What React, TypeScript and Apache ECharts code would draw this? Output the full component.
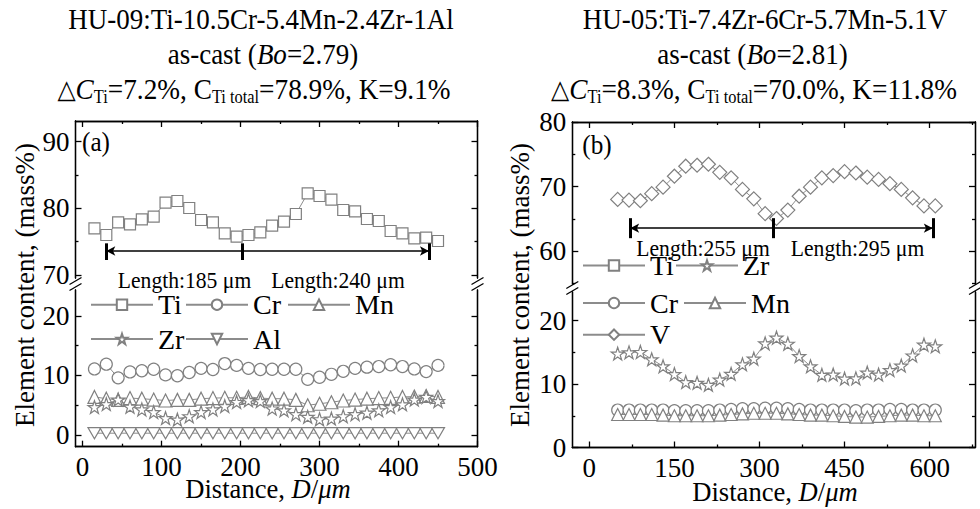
import React, { useEffect, useRef } from "react";
import * as echarts from "echarts";

const FONT = '"Liberation Serif", "Times New Roman", serif';

// ---------- data ----------
const X_A = [15, 30, 45, 60, 75, 90, 105, 120, 135, 150, 165, 180, 195, 210, 225, 240, 255, 270, 285, 300, 315, 330, 345, 360, 375, 390, 405, 420, 435, 450];
const TI_A = [77.0, 76.0, 77.9, 77.6, 78.35, 78.75, 80.85, 81.1, 80.05, 78.25, 77.9, 76.25, 75.75, 76.0, 76.4, 77.4, 78.0, 79.15, 82.25, 81.85, 81.3, 79.75, 79.55, 78.4, 78.1, 76.6, 76.25, 75.5, 75.6, 75.1];
const CR_A = [11.1, 11.9, 9.6, 10.6, 10.8, 11.05, 10.1, 9.95, 10.5, 11.2, 11.0, 12.0, 11.7, 11.2, 11.0, 11.05, 11.05, 11.05, 9.35, 9.7, 10.2, 10.7, 11.2, 11.4, 11.5, 11.8, 11.5, 11.1, 10.65, 11.7];
const MN_A = [6.4, 6.1, 5.9, 6.2, 6.1, 5.95, 5.8, 5.9, 5.9, 6.1, 6.2, 6.25, 6.25, 6.4, 6.2, 6.1, 6.1, 5.9, 5.0, 5.25, 5.5, 5.8, 5.95, 6.1, 6.2, 6.25, 6.4, 6.45, 6.55, 6.4];
const ZR_A = [4.7, 5.2, 5.95, 4.75, 4.3, 3.85, 2.85, 2.6, 3.15, 3.85, 4.3, 4.85, 5.55, 5.85, 5.7, 4.45, 4.15, 3.5, 3.05, 2.65, 2.75, 3.15, 3.5, 3.75, 4.15, 4.7, 5.15, 5.95, 6.4, 5.7];
const AL_A = [0.3, 0.3, 0.3, 0.3, 0.3, 0.3, 0.3, 0.3, 0.3, 0.3, 0.3, 0.3, 0.3, 0.3, 0.3, 0.3, 0.3, 0.3, 0.3, 0.3, 0.3, 0.3, 0.3, 0.3, 0.3, 0.3, 0.3, 0.3, 0.3, 0.3];

const X_B = [50, 70, 90, 110, 130, 150, 170, 190, 210, 230, 250, 270, 290, 310, 330, 350, 370, 390, 410, 430, 450, 470, 490, 510, 530, 550, 570, 590, 610];
const V_B = [68.0, 67.9, 67.8, 68.9, 69.9, 71.6, 73.15, 73.3, 73.45, 72.2, 71.35, 69.55, 68.1, 65.8, 65.05, 66.35, 68.5, 69.9, 71.35, 71.7, 72.3, 72.1, 71.45, 71.1, 70.45, 69.55, 68.25, 67.0, 67.0];
const ZR_B = [14.8, 15.0, 15.05, 13.9, 12.8, 11.57, 10.3, 10.2, 9.87, 10.7, 11.6, 13.1, 14.0, 16.4, 17.3, 16.35, 14.4, 12.8, 11.45, 11.5, 10.85, 10.9, 11.8, 11.5, 12.2, 12.9, 14.5, 16.2, 15.95];
const CR_B = [5.9, 5.9, 5.9, 5.9, 5.9, 5.8, 5.8, 5.8, 5.8, 5.9, 6.0, 6.1, 6.1, 6.2, 6.2, 6.1, 6.0, 5.9, 5.9, 5.9, 5.9, 5.8, 5.9, 5.9, 6.0, 6.0, 5.9, 5.9, 5.9];
const MN_B = [5.2, 5.2, 5.2, 5.2, 5.1, 5.0, 5.0, 5.0, 5.0, 5.1, 5.2, 5.3, 5.4, 5.4, 5.4, 5.3, 5.2, 5.1, 5.1, 5.0, 4.9, 4.8, 4.8, 4.9, 5.0, 5.1, 5.1, 5.0, 5.0];

// tick values
const XA_MAJOR = [0, 100, 200, 300, 400, 500];
const XA_MINOR = [50, 150, 250, 350, 450];
const XB_MAJOR = [0, 150, 300, 450, 600];
const XB_MINOR = [75, 225, 375, 525, 675];
const YA_UP_MAJOR = [70, 80, 90];
const YA_UP_MINOR = [75, 85];
const YB_UP_MAJOR = [60, 70, 80];
const YB_UP_MINOR = [55, 65, 75];
const Y_LOW_MAJOR = [0, 10, 20];
const Y_LOW_MINOR = [5, 15];

// annotation values (data coords)
const ARROW_A = { y: 73.6, x: [30, 202, 438.5], yLo: 72.25, yHi: 74.75 };
const ARROW_B = { y: 63.55, x: [72, 324, 605.6], yLo: 62.0, yHi: 65.1 };

const STAR = "path://M10,0L12.35,7.24L19.51,7.24L13.71,11.71L15.88,18.82L10,14.5L4.12,18.82L6.29,11.71L0.49,7.24L7.65,7.24Z";
const INV_TRI = "path://M0,0L20,0L10,17.3Z";

const GRAY = "#808080";
const LINE_GRAY = "#8c8c8c";

function pairs(xs: number[], ys: number[]) {
  return xs.map((x, i) => [x, ys[i]]);
}

function axisBase(gridIndex: number, min: number, max: number, position: string, ticks: number[], len: number, labels?: number[]) {
  return {
    type: "value",
    gridIndex,
    min,
    max,
    position,
    axisLine: { show: true, onZero: false, lineStyle: { color: "#000", width: 1.3 } },
    axisTick: { show: true, inside: true, length: len, customValues: ticks, lineStyle: { color: "#000", width: 1.3 } },
    axisLabel: labels
      ? { show: true, customValues: labels, fontFamily: FONT, fontSize: 27, color: "#000", margin: position === "bottom" ? 7 : 6 }
      : { show: false },
    splitLine: { show: false },
  };
}

function yAxesFor(grid: number, min: number, max: number, major: number[], minor: number[]) {
  return [
    axisBase(grid, min, max, "left", major, 6, major),
    axisBase(grid, min, max, "left", minor, 3),
    axisBase(grid, min, max, "right", major, 6),
    axisBase(grid, min, max, "right", minor, 3),
  ];
}

function lineSeries(name: string, xi: number, yi: number, data: number[][], symbol: string, size: number, extra: any = {}) {
  return {
    type: "line",
    name,
    xAxisIndex: xi,
    yAxisIndex: yi,
    data,
    symbol,
    symbolSize: size,
    symbolKeepAspect: true,
    showAllSymbol: true,
    lineStyle: { color: LINE_GRAY, width: 1 },
    itemStyle: { color: "#fff", borderColor: GRAY, borderWidth: 1.2 },
    emphasis: { disabled: true },
    ...extra,
  };
}

function arrowMark(a: { y: number; x: number[]; yLo: number; yHi: number }) {
  const bars = a.x.map((x) => [
    { coord: [x, a.yLo], symbol: "none", lineStyle: { width: 3, color: "#000", type: "solid" } },
    { coord: [x, a.yHi], symbol: "none" },
  ]);
  return {
    silent: true,
    symbol: ["arrow", "arrow"],
    symbolSize: [7, 9],
    label: { show: false },
    lineStyle: { color: "#000", width: 1.6, type: "solid" },
    emphasis: { disabled: true },
    data: [[{ coord: [a.x[0], a.y] }, { coord: [a.x[2], a.y] }], ...bars],
  };
}

function legendItem(name: string, left: number, cy: number) {
  return {
    data: [name],
    left,
    top: cy - 16,
    orient: "horizontal",
    itemWidth: 62,
    itemHeight: 13,
    padding: 0,
    selectedMode: false,
    textStyle: { fontFamily: FONT, fontSize: 28, color: "#000" },
  };
}

function txt(text: string, x: number, y: number, size: number, sx = 1, rich?: any, rotation = 0) {
  return {
    type: "text",
    x,
    y,
    scaleX: sx,
    rotation,
    silent: true,
    style: {
      text,
      fontFamily: FONT,
      fontSize: size,
      fill: "#000",
      align: "center",
      verticalAlign: "middle",
      textAlign: "center",
      textVerticalAlign: "middle",
      rich,
    },
  };
}

function richTitle(size: number) {
  return {
    n: { fontFamily: FONT, fontSize: size, lineHeight: size + 4, verticalAlign: "middle" },
    i: { fontFamily: FONT, fontSize: size, fontStyle: "italic", lineHeight: size + 4 },
    t: { fontFamily: '"DejaVu Sans", sans-serif', fontSize: size - 4, lineHeight: size + 4 },
    s: { fontFamily: FONT, fontSize: Math.round(size * 0.6), lineHeight: 14, verticalAlign: "bottom" },
  };
}

function axisNameRich(size: number) {
  return {
    n: { fontFamily: FONT, fontSize: size },
    i: { fontFamily: FONT, fontSize: size, fontStyle: "italic" },
  };
}

function breakMarks(x: number, y1: number, y2: number) {
  return [y1, y2].map((y) => ({
    type: "line",
    silent: true,
    shape: { x1: x - 6, y1: y + 3.5, x2: x + 6, y2: y - 3.5 },
    style: { stroke: "#000", lineWidth: 1.3 },
  }));
}

const option: any = {
  animation: false,
  backgroundColor: "#fff",
  grid: [
    { left: 75.5, top: 121, width: 402, height: 157, outerBoundsMode: "none", containLabel: false },
    { left: 75.5, top: 290, width: 402, height: 156.7, outerBoundsMode: "none", containLabel: false },
    { left: 572.3, top: 122, width: 402.7, height: 162, outerBoundsMode: "none", containLabel: false },
    { left: 572.3, top: 292, width: 402.7, height: 155.5, outerBoundsMode: "none", containLabel: false },
  ],
  xAxis: [
    axisBase(0, -9, 500, "top", XA_MAJOR, 6),
    axisBase(0, -9, 500, "top", XA_MINOR, 3),
    axisBase(1, -9, 500, "bottom", XA_MAJOR, 6, XA_MAJOR),
    axisBase(1, -9, 500, "bottom", XA_MINOR, 3),
    axisBase(2, -30, 680, "top", XB_MAJOR, 6),
    axisBase(2, -30, 680, "top", XB_MINOR, 3),
    axisBase(3, -30, 680, "bottom", XB_MAJOR, 6, XB_MAJOR),
    axisBase(3, -30, 680, "bottom", XB_MINOR, 3),
  ],
  yAxis: [
    ...yAxesFor(0, 69.55, 93.1, YA_UP_MAJOR, YA_UP_MINOR),
    ...yAxesFor(1, -1.97, 24.37, Y_LOW_MAJOR, Y_LOW_MINOR),
    ...yAxesFor(2, 54.9, 80, YB_UP_MAJOR, YB_UP_MINOR),
    ...yAxesFor(3, 0, 24.5, Y_LOW_MAJOR, Y_LOW_MINOR),
  ],
  legend: [
    legendItem("Ti", 90, 306.7),
    legendItem("Cr", 185, 306.7),
    legendItem("Mn", 287, 306.7),
    legendItem("Zr", 90, 341),
    legendItem("Al", 185, 341),
    legendItem("Ti", 582, 267.5),
    legendItem("Zr", 675, 267.5),
    legendItem("Cr", 582, 305),
    legendItem("Mn", 683, 305),
    legendItem("V", 582, 336.7),
  ],
  series: [
    lineSeries("Ti", 0, 0, pairs(X_A, TI_A), "rect", 11, { markLine: arrowMark(ARROW_A) }),
    lineSeries("Cr", 2, 4, pairs(X_A, CR_A), "circle", 12),
    lineSeries("Mn", 2, 4, pairs(X_A, MN_A), "triangle", 13),
    lineSeries("Zr", 2, 4, pairs(X_A, ZR_A), STAR, 13),
    lineSeries("Al", 2, 4, pairs(X_A, AL_A), INV_TRI, 13),
    lineSeries("V", 4, 8, pairs(X_B, V_B), "diamond", 14, { markLine: arrowMark(ARROW_B) }),
    lineSeries("Zr", 6, 12, pairs(X_B, ZR_B), STAR, 13),
    lineSeries("Cr", 6, 12, pairs(X_B, CR_B), "circle", 12),
    lineSeries("Mn", 6, 12, pairs(X_B, MN_B), "triangle", 12),
  ],
  graphic: [
    // titles panel (a)
    txt("HU-09:Ti-10.5Cr-5.4Mn-2.4Zr-1Al", 261, 19, 30, 0.9),
    txt("{n|as-cast (}{i|Bo}{n|=2.79)}", 263, 54, 30, 0.9, richTitle(30)),
    txt("{t|△}{i|C}{s|Ti}{n|=7.2%, C}{s|Ti total}{n|=78.9%, K=9.1%}", 254, 89, 30, 0.91, richTitle(30)),
    // titles panel (b)
    txt("HU-05:Ti-7.4Zr-6Cr-5.7Mn-5.1V", 765, 19, 30, 0.9),
    txt("{n|as-cast (}{i|Bo}{n|=2.81)}", 752.5, 54, 30, 0.9, richTitle(30)),
    txt("{t|△}{i|C}{s|Ti}{n|=8.3%, C}{s|Ti total}{n|=70.0%, K=11.8%}", 754, 89, 30, 0.91, richTitle(30)),
    // panel labels
    txt("(a)", 96, 142, 28, 0.9),
    txt("(b)", 597, 145, 28, 0.9),
    // length annotations
    txt("Length:185 μm", 184.5, 280, 24, 0.9),
    txt("Length:240 μm", 338, 280, 24, 0.9),
    txt("Length:255 μm", 703, 248, 24, 0.9),
    txt("Length:295 μm", 857.5, 248, 24, 0.9),
    // axis names
    txt("{n|Distance, }{i|D}{n|/}{i|μm}", 268, 489, 28, 0.95, axisNameRich(28)),
    txt("{n|Distance, }{i|D}{n|/}{i|μm}", 775, 492, 28, 0.95, axisNameRich(28)),
    txt("Element content, (mass%)", 25, 285, 27, 1, undefined, Math.PI / 2),
    txt("Element content, (mass%)", 520, 285, 27, 1, undefined, Math.PI / 2),
    // axis breaks
    ...breakMarks(75.5, 281, 287),
    ...breakMarks(477.5, 281, 287),
    ...breakMarks(572.3, 285, 291),
    ...breakMarks(975, 285, 291),
  ],
};

export default function App() {
  const ref = useRef<HTMLDivElement>(null);
  useEffect(() => {
    const chart = echarts.init(ref.current!, null, { renderer: "svg" });
    chart.setOption(option);
    return () => chart.dispose();
  }, []);
  return (
    <div
      ref={ref}
      style={{ position: "absolute", left: 0, top: 0, width: 980, height: 509, background: "#fff" }}
    />
  );
}
